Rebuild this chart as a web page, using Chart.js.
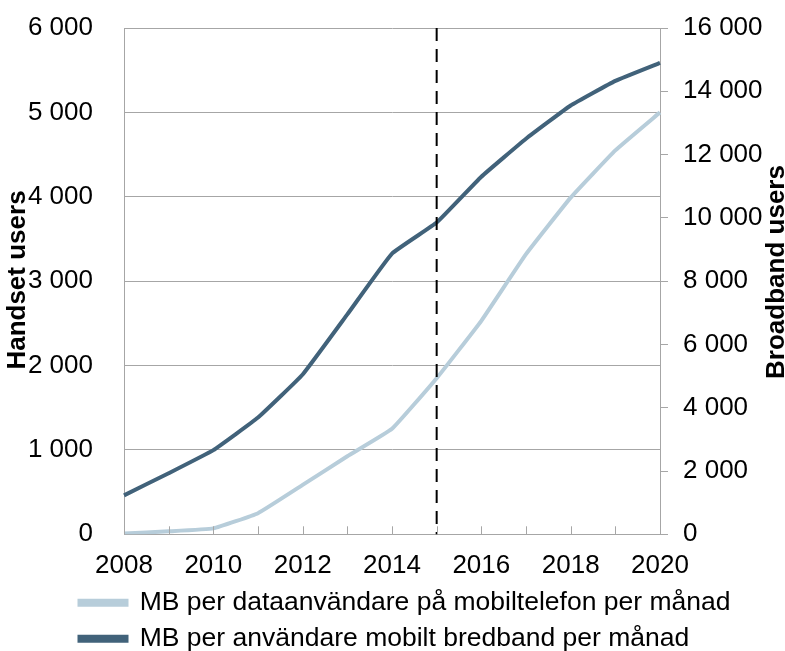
<!DOCTYPE html>
<html>
<head>
<meta charset="utf-8">
<script src="https://cdn.jsdelivr.net/npm/chart.js@4/dist/chart.umd.min.js"></script>
<style>
  html, body { margin: 0; padding: 0; background: #fff; }
  #wrap { width: 785px; height: 651px; }
</style>
</head>
<body>
<div id="wrap"><canvas id="chart" width="785" height="651"></canvas></div>
<script>
'use strict';

// ─── Data ─────────────────────────────────────────────────────────────────────
const years = ['2008', '2009', '2010', '2011', '2012', '2013', '2014', '2015', '2016', '2017', '2018', '2019', '2020'];
const handsetMB = [10, 35, 70, 250, 585, 925, 1250, 1850, 2530, 3320, 3990, 4550, 5000];
const broadbandMB = [1230, 1930, 2660, 3690, 5050, 6950, 8870, 9850, 11300, 12500, 13550, 14330, 14900];
const seriesLabels = ['MB per dataanvändare på mobiltelefon per månad', 'MB per användare mobilt bredband per månad'];
const axisTitles = ['Handset users', 'Broadband users'];
const forecastYear = '2015';

const FONT = "'Liberation Sans', Arial, sans-serif";
const GRID = '#a6a6a6';

function spaced(v) {
  return String(v).replace(/\B(?=(\d{3})+(?!\d))/g, ' ');
}

// y axes: fixed width, and no extra vertical padding from the tick padding
function fixAxis(width) {
  return s => {
    s.width = width;
    s.paddingTop = 0;
    s.paddingBottom = 0;
  };
}

// ─── Extras: dashed marker, inner x ticks, axis titles, legend offset ────────
const overlay = {
  id: 'overlay',
  afterLayout(chart) {
    // legend rows start under the plot, not at the canvas edge
    chart.legend.left = 70;
  },
  afterDatasetsDraw(chart) {
    const { ctx, chartArea, scales } = chart;
    const x = scales.x.getPixelForValue(years.indexOf(forecastYear));
    ctx.save();
    ctx.strokeStyle = '#000';
    ctx.lineWidth = 2;
    ctx.setLineDash([13, 8]);
    ctx.beginPath();
    ctx.moveTo(x, chartArea.top);
    ctx.lineTo(x, chartArea.bottom);
    ctx.stroke();
    ctx.restore();
  },
  afterDraw(chart) {
    const { ctx, chartArea, scales } = chart;
    ctx.save();
    ctx.strokeStyle = GRID;
    ctx.lineWidth = 1;
    years.forEach((y, i) => {
      const x = Math.round(scales.x.getPixelForValue(i)) + 0.5;
      ctx.beginPath();
      ctx.moveTo(x, chartArea.bottom);
      ctx.lineTo(x, chartArea.bottom - 8);
      ctx.stroke();
    });

    ctx.fillStyle = '#000';
    ctx.font = `bold 26px ${FONT}`;
    ctx.textAlign = 'center';
    ctx.textBaseline = 'alphabetic';
    [[25, 280, axisTitles[0]], [783.5, 272, axisTitles[1]]].forEach(([tx, ty, text]) => {
      ctx.save();
      ctx.translate(tx, ty);
      ctx.rotate(-Math.PI / 2);
      ctx.fillText(text, 0, 0);
      ctx.restore();
    });
    ctx.restore();
  },
};

// ─── Chart ────────────────────────────────────────────────────────────────────
new Chart(document.getElementById('chart'), {
  type: 'line',
  data: {
    labels: years,
    datasets: [
      {
        label: seriesLabels[0],
        data: handsetMB,
        yAxisID: 'y',
        borderColor: '#b7cdda',
        backgroundColor: '#b7cdda',
        borderWidth: 4,
        pointRadius: 0,
        tension: 0.1,
      },
      {
        label: seriesLabels[1],
        data: broadbandMB,
        yAxisID: 'y1',
        borderColor: '#41627a',
        backgroundColor: '#41627a',
        borderWidth: 4,
        pointRadius: 0,
        tension: 0.1,
      },
    ],
  },
  options: {
    responsive: false,
    animation: false,
    layout: { padding: { left: 0, top: 28, right: 0, bottom: -11 } },
    plugins: {
      tooltip: { enabled: false },
      legend: {
        position: 'bottom',
        align: 'start',
        labels: {
          color: '#000',
          font: { family: FONT, size: 26.5 },
          boxWidth: 47,
          boxHeight: 4,
          padding: 9.5,
        },
      },
    },
    scales: {
      x: {
        offset: false,
        afterFit: s => { s.height -= 17.5; },
        grid: { display: false, drawTicks: false },
        border: { color: GRID, width: 1 },
        ticks: {
          color: '#000',
          font: { family: FONT, size: 26 },
          padding: 16,
          autoSkip: false,
          maxRotation: 0,
          callback: (v, i) => (i % 2 === 0 ? years[i] : ''),
        },
      },
      y: {
        position: 'left',
        min: 0,
        max: 6000,
        afterFit: fixAxis(124),
        grid: { color: GRID, drawTicks: false },
        border: { color: GRID, width: 1 },
        ticks: {
          stepSize: 1000,
          color: '#000',
          font: { family: FONT, size: 26 },
          padding: 31,
          callback: v => spaced(v),
        },
      },
      y1: {
        position: 'right',
        min: 0,
        max: 16000,
        afterFit: fixAxis(125),
        grid: { drawOnChartArea: false, color: GRID, tickLength: 8 },
        border: { color: GRID, width: 1 },
        ticks: {
          stepSize: 2000,
          color: '#000',
          font: { family: FONT, size: 26 },
          padding: 15,
          callback: v => spaced(v),
        },
      },
    },
  },
  plugins: [overlay],
});
</script>
</body>
</html>
